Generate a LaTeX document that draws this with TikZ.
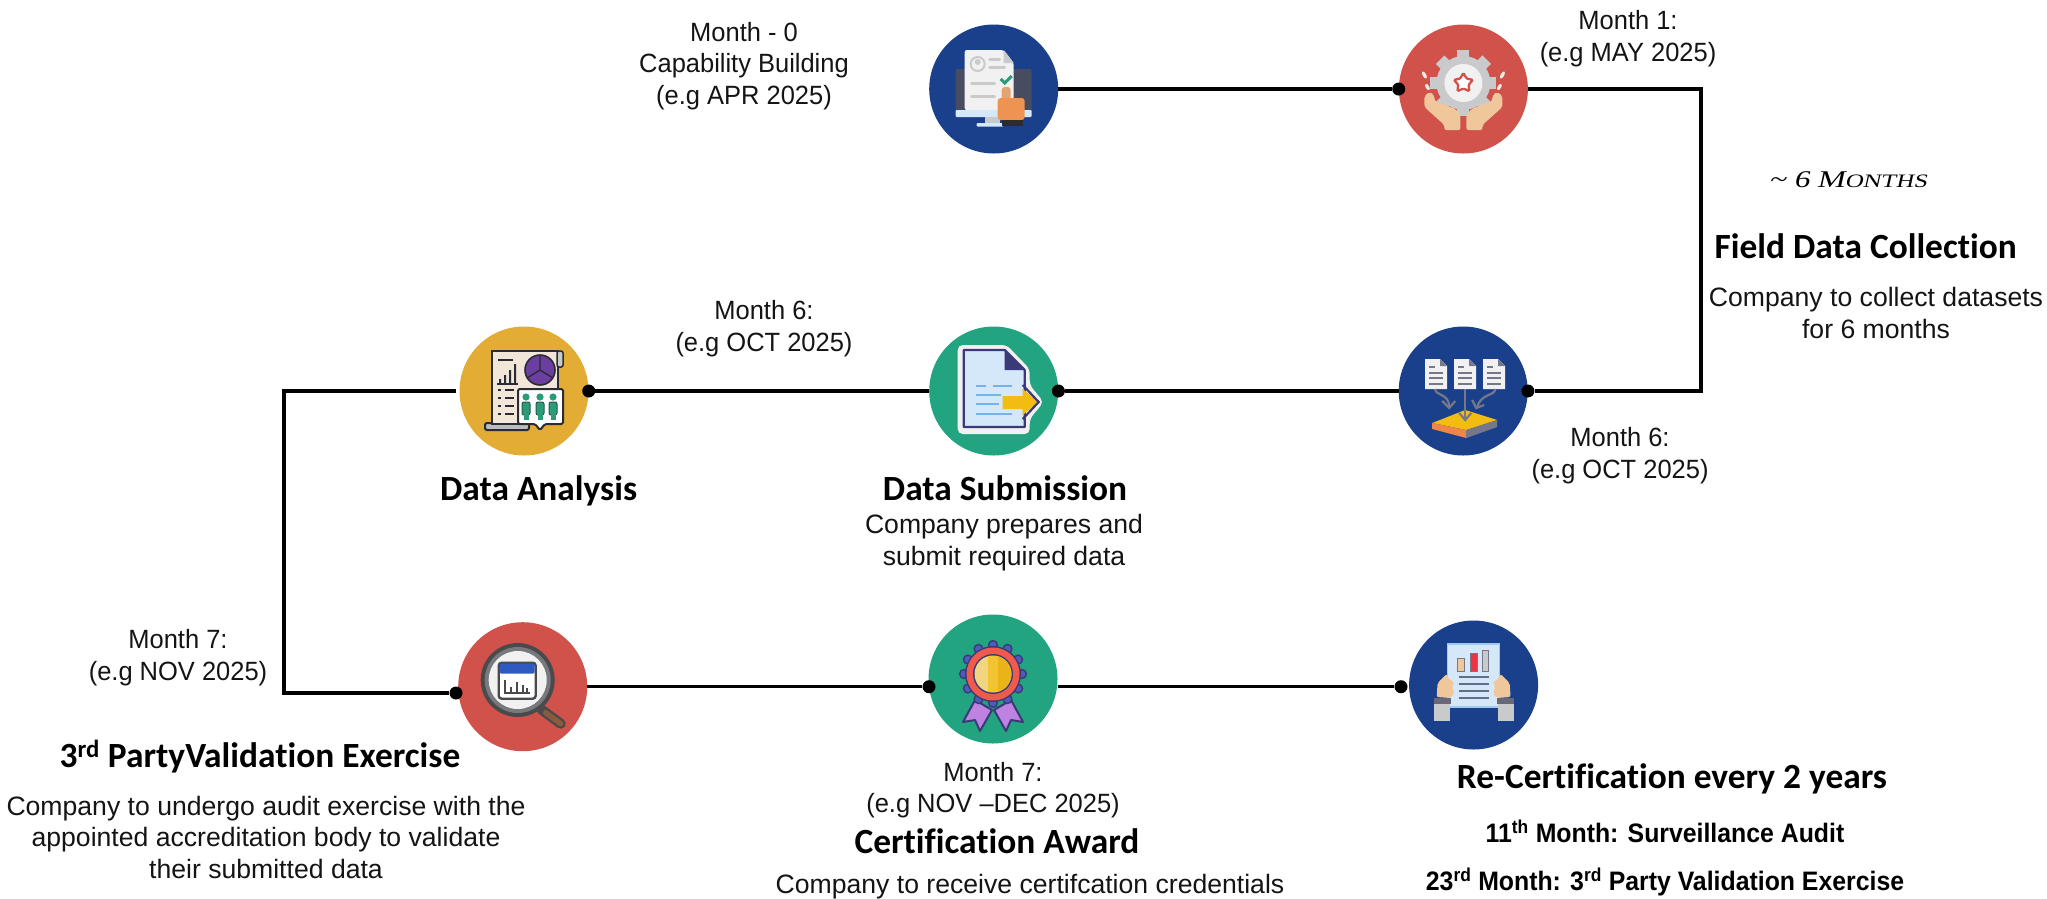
\documentclass[tikz,border=0pt]{standalone}
\usepackage{fontspec}
\setmainfont{Liberation Sans}
\newfontfamily\labf[FakeStretch=.965]{Liberation Sans}
\newfontfamily\headf[Ligatures=NoCommon]{Carlito}
\newfontfamily\subbf[FakeStretch=.93]{Liberation Sans}
\newfontfamily\wideit[FakeStretch=1.3,FakeSlant=.22]{Liberation Serif}
\definecolor{cblue}{HTML}{1B408B}
\definecolor{cred}{HTML}{D1514B}
\definecolor{cgold}{HTML}{E2AC35}
\definecolor{cgreen}{HTML}{21A47F}
\definecolor{inkd}{HTML}{2B2B33}
\definecolor{slate}{HTML}{474C60}
\definecolor{paper}{HTML}{F1F1F1}
\definecolor{lgray}{HTML}{C8CACC}
\definecolor{skin}{HTML}{EFC79B}
\definecolor{orng}{HTML}{EE9450}
\definecolor{pale}{HTML}{D4E8FA}
\definecolor{navy}{HTML}{3B3A78}
\definecolor{sky}{HTML}{74B4EE}
\definecolor{ylw}{HTML}{F2BC10}
\definecolor{purp}{HTML}{6B3FA0}
\definecolor{lilac}{HTML}{BE82E0}
\definecolor{grn}{HTML}{2A9D78}
\definecolor{gmid}{HTML}{77778A}
\definecolor{lensd}{HTML}{4A4A4C}
\definecolor{lensm}{HTML}{77797C}
\definecolor{brownh}{HTML}{8A5A3C}
\definecolor{winblue}{HTML}{2F5BC0}
\definecolor{rosb}{HTML}{4F5CBE}
\definecolor{rosr}{HTML}{EE5A4C}
\tikzset{
  x=1pt,y=-1pt,
  disc/.style={circle,inner sep=0,minimum size=129pt,draw=none},
  dotn/.style={circle,fill=black,inner sep=0,minimum size=13pt},
  link/.style={draw=black,line width=3.4pt,line join=miter},
  lab/.style={anchor=base,align=center,inner sep=0,font=\labf\fontsize{26.4}{31.4}\selectfont,text=black!92},
  desc/.style={lab,font=\fontsize{26.6}{31.2}\selectfont},
  head/.style={anchor=base,align=center,inner sep=0,font=\headf\bfseries\fontsize{35.4}{38}\selectfont},
  subb/.style={anchor=base,align=center,inner sep=0,font=\subbf\bfseries\fontsize{26.7}{30}\selectfont},
}
\begin{document}
\begin{tikzpicture}
\useasboundingbox (0,0) rectangle (2047,898);
% discs
\node[disc,fill=cblue] (c1) at (993.7,89) {};
\node[disc,fill=cred] (c2) at (1463.4,89) {};
\node[disc,fill=cblue] (c3) at (1463.2,391) {};
\node[disc,fill=cgreen] (c4) at (993.7,391) {};
\node[disc,fill=cgold] (c5) at (524,391) {};
\node[disc,fill=cred] (c6) at (522.7,686.7) {};
\node[disc,fill=cgreen] (c7) at (993,679) {};
\node[disc,fill=cblue] (c8) at (1473.6,685) {};
% dots
\node[dotn] (d2) at (c2.west) {};
\node[dotn] (d3) at (c3.east) {};
\node[dotn] (d4) at (c4.east) {};
\node[dotn] (d5) at (c5.east) {};
\node[dotn] (d6) at (456,693) {};
\node[dotn] (d7) at (929,686.7) {};
\node[dotn] (d8) at (1401,686.7) {};
\coordinate (k1) at (1701,89);
\coordinate (k2) at (1701,391);
\coordinate (k3) at (284,391);
\coordinate (k4) at (284,693);
% connectors
\draw[link] (c1.east) -- (d2);
\draw[link] (c2.east) -- (k1) -- (k2) -- (d3);
\draw[link] (c3.west) -- (d4);
\draw[link] (c4.west) -- (d5);
\draw[link] (c5.west) ++(-3,0) -- (k3) -- (k4) -- (d6);
\draw[link] (c6.east) -- (d7);
\draw[link] (c7.east |- d7) -- (d8);
% icon 1
\begin{scope}[shift={(c1.center)}]
\fill[slate,rounded corners=2] (-38,-20) rectangle (38,24);
\fill[pale,rounded corners=1] (-38,21) rectangle (38,28);
\fill[lgray] (-9,28) rectangle (6,35);
\fill[pale,rounded corners=1] (-17,34) rectangle (10,37.5);
\fill[paper,rounded corners=2] (-29,-39) -- (10,-39) -- (20,-26) -- (20,21) -- (-29,21) -- cycle;
\fill[lgray] (10,-39) -- (20,-26) -- (10,-26) -- cycle;
\draw[lgray,line width=2] (-16,-25) circle[radius=7];
\fill[lgray] (-16,-27) circle[radius=3];
\draw[lgray,line width=3,line cap=round] (-4,-30) -- (6,-30) (-4,-22) -- (11,-22) (-22,-6) -- (1,-6) (-22,7) -- (1,7);
\draw[grn,line width=3] (7,-10) -- (11,-6) -- (18,-13);
\fill[orng!70!lgray,rounded corners=3] (8,-2) rectangle (17,12);
\fill[orng,rounded corners=3] (4,9) rectangle (31,31);
\fill[inkd] (8,31) rectangle (29,37);
\end{scope}
% icon 2
\begin{scope}[shift={(c2.center)}]
\begin{scope}[shift={(0,-6)}]
\foreach \a in {0,45,...,315} {\fill[lgray,rotate=\a] (-6,-33) rectangle (6,-23);}
\fill[lgray] (0,0) circle[radius=27];
\fill[paper] (0,0) circle[radius=19];
\draw[cred,fill=white,line width=2.3,rounded corners=1.2] (0,-10) -- (3.2,-4.4) -- (9.5,-3.1) -- (5.2,1.7) -- (5.9,8.1) -- (0,5.5) -- (-5.9,8.1) -- (-5.2,1.7) -- (-9.5,-3.1) -- (-3.2,-4.4) -- cycle;
\end{scope}
\foreach \s in {1,-1} {
\begin{scope}[xscale=\s]
\fill[skin,rounded corners=2] (-39,7) -- (-34,3) -- (-30,5) -- (-28,13) -- (-18,16) -- (-8,20) -- (-3,26) -- (-3,41) -- (-19,41) -- (-19,36) -- (-39,18) -- cycle;
\fill[paper!85!skin,rotate around={30:(-39,-14)}] (-39,-14) ellipse[x radius=1.8,y radius=4];
\fill[paper!85!skin,rotate around={30:(-36,-2)}] (-36,-2) ellipse[x radius=1.8,y radius=3.5];
\end{scope}}
\end{scope}
% icon 3
\begin{scope}[shift={(c3.center)}]
\foreach \d in {-38,-9,20} {
\begin{scope}[shift={(\d,0)}]
\fill[paper] (0,-32) -- (15,-32) -- (22,-25) -- (22,-2) -- (0,-2) -- cycle;
\fill[gmid] (15,-32) -- (22,-25) -- (15,-25) -- cycle;
\draw[gmid,line width=1.8] (4,-24) -- (10,-24) (4,-18) -- (18,-18) (4,-13) -- (18,-13) (4,-7) -- (18,-7);
\end{scope}}
\draw[gmid,line width=2.2] (-28,-2) .. controls (-28,5) and (-14,2) .. (-14,16);
\draw[gmid,line width=2.2] (-21,10) -- (-14,17) -- (-8,10);
\draw[gmid,line width=2.2] (32,-2) .. controls (32,5) and (18,2) .. (14,16);
\draw[gmid,line width=2.2] (9,9) -- (13,17) -- (21,14);
\fill[ylw] (-31,32) -- (2,19) -- (34,29) -- (3,39) -- cycle;
\fill[orng!90!red] (-31,32) -- (3,39) -- (3,47) -- (-31,38) -- cycle;
\fill[gmid] (3,39) -- (34,29) -- (34,36) -- (3,47) -- cycle;
\draw[gmid,line width=2.2] (2,-2) -- (2,28);
\draw[gmid,line width=2.2] (-4,22) -- (2,29) -- (8,22);
\end{scope}
% icon 4
\begin{scope}[shift={(c5.center)}]
\draw[inkd,fill=gmid!50,line width=2,rounded corners=2] (-39,32) rectangle (5,39);
\draw[inkd,fill=paper!90!orange,line width=2] (-32,-40) -- (34,-40) -- (34,33) -- (-32,33) -- cycle;
\draw[inkd,fill=lgray,line width=1.5,rounded corners=2] (33,-40) rectangle (39,-24);
\draw[inkd,line width=2] (-26,-31) -- (-11,-31);
\draw[inkd,line width=1.8] (-27,-7) -- (-6,-7);
\fill[inkd] (-25,-12) rectangle (-23,-7) (-20,-16) rectangle (-18,-7) (-15,-21) rectangle (-13,-7) (-10,-27) rectangle (-8,-7);
\draw[inkd,fill=purp,line width=1.6] (16,-21) circle[radius=15];
\draw[inkd,line width=1.4] (16,-21) -- (16,-36) (16,-21) -- (3,-13) (16,-21) -- (29,-13);
\foreach \y in {-1,7,15,23} {\fill[inkd] (-26,\y-1) rectangle (-23,\y+1); \fill[inkd] (-19,\y-1) rectangle (-10,\y+1);}
\draw[inkd,fill=white,line width=2,rounded corners=1.5] (-6,-2) -- (39,-2) -- (39,33) -- (21,33) -- (16,39) -- (11,33) -- (-6,33) -- cycle;
\foreach \d in {2,16,29} {
\fill[grn] (\d,6) circle[radius=3.6];
\draw[inkd!60!grn,fill=grn,line width=1,rounded corners=2] (\d-4,11) rectangle (\d+4,24);
\fill[grn] (\d-2.5,23) rectangle (\d+2.5,29);
}
\end{scope}
% icon 5
\begin{scope}[shift={(c4.center)}]
\fill[paper,rounded corners=5] (-36,-46) -- (13,-46) -- (36,-22) -- (36,-6) -- (50,11) -- (36,28) -- (36,43) -- (-36,43) -- cycle;
\draw[navy,fill=pale,line width=2.2,line join=round] (-30,-41) -- (11,-41) -- (31,-21) -- (31,36) -- (-30,36) -- cycle;
\fill[navy] (11,-41) -- (31,-21) -- (11,-21) -- cycle;
\draw[sky,line width=2.4] (-18,-5) -- (-8,-5) (-1,-5) -- (18,-5) (-18,4) -- (7,4) (-18,13) -- (5,13) (-18,23) -- (18,23);
\fill[ylw] (9,5) -- (29,5) -- (29,-2) -- (45,11) -- (29,24) -- (29,18) -- (9,18) -- cycle;
\draw[navy,line width=2.2] (29,-6) -- (45,11) -- (29,28);
\end{scope}
% icon 6
\begin{scope}[shift={(c6.center)}]
\draw[lensd,line width=10,line cap=round] (19,23) -- (38,37);
\draw[brownh,line width=5.5,line cap=round] (23,26) -- (38,37);
\fill[lensd] (-5,-6.7) circle[radius=37];
\fill[lensm] (-5,-6.7) circle[radius=33];
\fill[paper] (-5,-6.7) circle[radius=29];
\draw[lensd,fill=white,line width=2.4,rounded corners=3] (-24,-24) rectangle (13,12);
\fill[winblue,rounded corners=2] (-23,-23) rectangle (12,-13);
\draw[lensd,line width=2] (-18,-7) -- (-18,6) -- (7,6) (-12,6) -- (-12,0) (-6,6) -- (-6,-5) (0,6) -- (0,-2) (4,6) -- (4,1);
\end{scope}
% icon 7
\begin{scope}[shift={(c7.center)}]
\foreach \s in {1,-1} {
\begin{scope}[xscale=\s]
\draw[navy,fill=lilac,line width=2,line join=round] (-18,21) -- (-1,31) -- (-13,52) -- (-18,41) -- (-30,43) -- cycle;
\end{scope}}
\begin{scope}[shift={(0,-5)}]
\foreach \a in {0,30,...,330} {\draw[navy,fill=rosb,line width=1.4] (\a:29) circle[radius=4.4];}
\fill[navy] (0,0) circle[radius=28];
\fill[rosr] (0,0) circle[radius=26.5];
\fill[navy] (0,0) circle[radius=20];
\fill[ylw!50!paper] (0,0) circle[radius=18.5];
\fill[ylw!85!paper] (-5,-17.8) rectangle (5,17.8);
\fill[ylw!85!brown] (5,-17.8) arc[start angle=-74,end angle=74,radius=18.5] -- cycle;
\end{scope}
\end{scope}
% icon 8
\begin{scope}[shift={(c8.center)}]
\draw[sky!70!white,fill=pale,line width=1.2] (-26,-41) rectangle (26,22);
\draw[gmid,fill=skin,line width=1] (-16,-27) rectangle (-9,-14);
\draw[gmid,fill=red!70!purple!80!white,line width=1] (-3.5,-32) rectangle (3.5,-14);
\draw[gmid,fill=lgray,line width=1] (8.5,-35) rectangle (15,-14);
\draw[gmid!80!cblue,line width=1.8] (-15,-8) -- (15,-8) (-15,-1) -- (15,-1) (-15,6) -- (15,6) (-15,13) -- (15,13);
\foreach \s in {1,-1} {
\begin{scope}[xscale=\s]
\fill[skin,rounded corners=2] (-37,12) -- (-36,-2) -- (-27,-11) -- (-24,-5) -- (-19,-3) -- (-22,2) -- (-19,8) -- (-23,13) -- cycle;
\fill[lgray] (-40,19) rectangle (-24,36);
\fill[gmid!80!inkd] (-40,13) rectangle (-23,19);
\end{scope}}
\end{scope}
% labels
\node[lab] (t1) at (744,104) {Month - 0\\Capability Building\\(e.g APR 2025)};
\node[lab] (t2) at (1628,61) {Month 1:\\(e.g MAY 2025)};
\node[anchor=base,inner sep=0,font=\wideit\fontsize{24}{26}\selectfont] (t3) at (1848,187) {\textasciitilde{} 6 M{\fontsize{19}{26}\selectfont ONTHS}};
\node[head] (t4) at (1865.7,258) {Field Data Collection};
\node[desc] (t5) at (1876,338) {Company to collect datasets\\for 6 months};
\node[lab] (t6) at (1620,478) {Month 6:\\(e.g OCT 2025)};
\node[lab] (t7) at (764,351) {Month 6:\\(e.g OCT 2025)};
\node[head] (t8) at (538.6,500) {Data Analysis};
\node[head] (t9) at (1005,500) {Data Submission};
\node[desc] (t10) at (1004,565) {Company prepares and\\submit required data};
\node[lab] (t11) at (178,680) {Month 7:\\(e.g NOV 2025)};
\node[head] (t12) at (260,767) {3\textsuperscript{rd} PartyValidation Exercise};
\node[desc] (t13) at (266,878) {Company to undergo audit exercise with the\\appointed accreditation body to validate\\their submitted data};
\node[lab] (t14) at (993,812.7) {Month 7:\\(e.g NOV –DEC 2025)};
\node[head] (t15) at (997,853) {Certification Award};
\node[desc] (t16) at (1030,893) {Company to receive certifcation credentials};
\node[head] (t17) at (1672,788) {Re-Certification every 2 years};
\node[subb] (t18) at (1665,842.7) {11\textsuperscript{th} Month: Surveillance Audit};
\node[subb] (t19) at (1665,890.7) {23\textsuperscript{rd} Month: 3\textsuperscript{rd} Party Validation Exercise};
\end{tikzpicture}
\end{document}
